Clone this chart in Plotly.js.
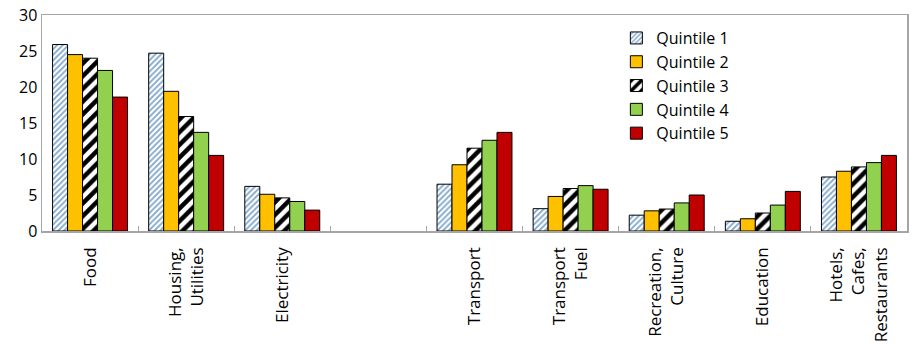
<!DOCTYPE html>
<html>
<head>
<meta charset="utf-8">
<script src="https://cdn.plot.ly/plotly-3.0.1.min.js"></script>
<style>html,body{margin:0;padding:0;background:#fff}#chart{width:923px;height:360px}</style>
</head>
<body>
<div id="chart"></div>
<script>
const categories = ["Food", "Housing,<br>Utilities", "Electricity", " ", "Transport", "Transport<br>Fuel", "Recreation,<br>Culture", "Education", "Hotels,<br>Cafes,<br>Restaurants"];
const seriesNames = ["Quintile 1", "Quintile 2", "Quintile 3", "Quintile 4", "Quintile 5"];
const q1 = [25.9, 24.7, 6.2, null, 6.5, 3.1, 2.2, 1.35, 7.5];
const q2 = [24.5, 19.4, 5.1, null, 9.2, 4.8, 2.8, 1.7, 8.3];
const q3 = [24.0, 15.9, 4.6, null, 11.5, 5.9, 3.05, 2.5, 8.9];
const q4 = [22.3, 13.7, 4.1, null, 12.6, 6.3, 3.9, 3.6, 9.5];
const q5 = [18.6, 10.5, 2.9, null, 13.7, 5.8, 5.0, 5.5, 10.5];
const yTicks = [0, 5, 10, 15, 20, 25, 30];

const values = [q1, q2, q3, q4, q5];
const markers = [
  {color: "#ffffff", pattern: {shape: "/", fgcolor: "#7ea6cc", bgcolor: "#ffffff", size: 4, solidity: 0.45}},
  {color: "#ffc000"},
  {color: "#ffffff", pattern: {shape: "/", fgcolor: "#000000", bgcolor: "#ffffff", size: 9, solidity: 0.5}},
  {color: "#92d050"},
  {color: "#c00000"}
];
const traces = values.map((v, i) => ({
  type: "bar",
  name: seriesNames[i],
  x: categories,
  y: v,
  marker: Object.assign({line: {color: "#000000", width: 1}}, markers[i]),
  hoverinfo: "y"
}));

const layout = {
  width: 923, height: 360,
  margin: {l: 42, r: 16, t: 15, b: 129},
  paper_bgcolor: "#ffffff", plot_bgcolor: "#ffffff",
  font: {family: "Open Sans, sans-serif", size: 15, color: "#000000"},
  barmode: "group",
  bargap: 0.22,
  bargroupgap: 0,
  showlegend: true,
  legend: {x: 0.664, y: 0.972, xanchor: "left", yanchor: "top", font: {size: 16, family: "Open Sans, sans-serif"}, bgcolor: "rgba(0,0,0,0)", itemwidth: 30, tracegroupgap: 0},
  xaxis: {
    type: "category",
    tickangle: -90,
    tickfont: {family: "Open Sans, sans-serif", size: 17},
    ticklabelstandoff: 8,
    showline: true, linecolor: "#a6a6a6", linewidth: 1.5, mirror: true,
    ticks: "inside", tickson: "boundaries", ticklen: 5, tickcolor: "#a6a6a6",
    showgrid: false, zeroline: false
  },
  yaxis: {
    range: [0, 30],
    tickvals: yTicks,
    ticktext: yTicks.map(String),
    tickfont: {size: 16},
    showline: true, linecolor: "#a6a6a6", linewidth: 1.5, mirror: true,
    ticks: "", showgrid: false, zeroline: false
  }
};

Plotly.newPlot("chart", traces, layout, {displayModeBar: false, staticPlot: true});
</script>
</body>
</html>
